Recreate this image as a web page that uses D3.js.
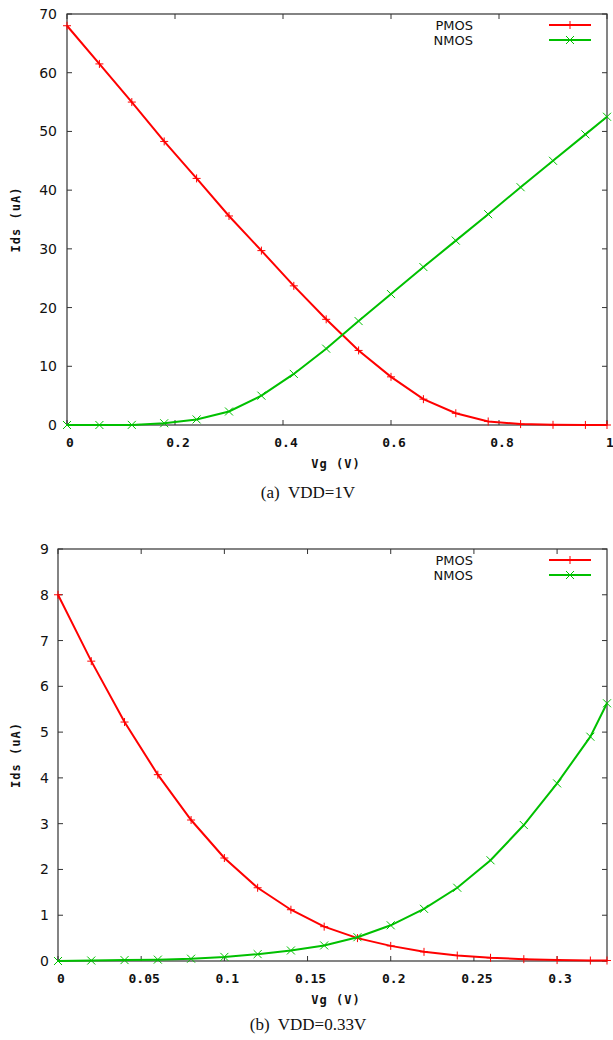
<!DOCTYPE html>
<html>
<head>
<meta charset="utf-8">
<script src="https://cdn.jsdelivr.net/npm/d3@7"></script>
<style>
  body { margin: 0; background: #fff; }
  svg text { fill: #111; }
  .tick-x { font-family: "DejaVu Sans Mono", monospace; font-size: 13px; font-weight: bold; }
  .tick-y { font-family: "DejaVu Sans", sans-serif; font-size: 14px; }
  .axis-label { font-family: "DejaVu Sans Mono", monospace; font-size: 12px; font-weight: bold; letter-spacing: 1px; }
  .legend { font-family: "DejaVu Sans", sans-serif; font-size: 13px; }
  .caption { font-family: "Liberation Serif", "Times New Roman", serif; font-size: 17px; }
</style>
</head>
<body>
<svg id="chart" width="613" height="1040"></svg>
<script>
// (a) VDD = 1V
const vgA = [0, 0.06, 0.12, 0.18, 0.24, 0.30, 0.36, 0.42, 0.48, 0.54, 0.60, 0.66, 0.72, 0.78, 0.84, 0.90, 0.96, 1.0];
const pmosA = [68, 61.5, 55, 48.3, 42, 35.6, 29.7, 23.7, 18, 12.7, 8.2, 4.4, 2.0, 0.6, 0.15, 0.03, 0.01, 0];
const nmosA = [0, 0, 0.02, 0.3, 0.95, 2.3, 5.0, 8.7, 13, 17.7, 22.3, 26.9, 31.4, 35.9, 40.5, 45, 49.5, 52.5];
const xTicksA = [0, 0.2, 0.4, 0.6, 0.8, 1];
const yTicksA = [0, 10, 20, 30, 40, 50, 60, 70];

// (b) VDD = 0.33V
const vgB = [0, 0.02, 0.04, 0.06, 0.08, 0.10, 0.12, 0.14, 0.16, 0.18, 0.20, 0.22, 0.24, 0.26, 0.28, 0.30, 0.32, 0.33];
const pmosB = [8.0, 6.55, 5.22, 4.07, 3.08, 2.25, 1.6, 1.12, 0.75, 0.5, 0.33, 0.2, 0.12, 0.07, 0.04, 0.02, 0.01, 0.01];
const nmosB = [0, 0.01, 0.02, 0.03, 0.05, 0.09, 0.15, 0.23, 0.34, 0.52, 0.78, 1.14, 1.6, 2.2, 2.97, 3.88, 4.9, 5.63];
const xTicksB = [0, 0.05, 0.1, 0.15, 0.2, 0.25, 0.3];
const yTicksB = [0, 1, 2, 3, 4, 5, 6, 7, 8, 9];

const seriesNames = ['PMOS', 'NMOS'];
const seriesColors = ['#ff0000', '#00c000'];

const svg = d3.select('#chart');

function drawPanel(opt) {
  const g = svg.append('g');
  const x = d3.scaleLinear().domain(opt.xDomain).range([opt.left, opt.right]);
  const y = d3.scaleLinear().domain(opt.yDomain).range([opt.bottom, opt.top]);
  const tl = 5;

  // frame
  g.append('rect')
    .attr('x', opt.left).attr('y', opt.top)
    .attr('width', opt.right - opt.left).attr('height', opt.bottom - opt.top)
    .attr('fill', 'none').attr('stroke', '#333').attr('stroke-width', 1.2);

  // ticks, inside and mirrored
  opt.xTicks.forEach(t => {
    g.append('line').attr('x1', x(t)).attr('x2', x(t)).attr('y1', opt.bottom).attr('y2', opt.bottom - tl).attr('stroke', '#333');
    g.append('line').attr('x1', x(t)).attr('x2', x(t)).attr('y1', opt.top).attr('y2', opt.top + tl).attr('stroke', '#333');
    g.append('text').attr('class', 'tick-x')
      .attr('x', x(t) + 3).attr('y', opt.bottom + 22)
      .attr('text-anchor', 'middle')
      .text(t);
  });
  opt.yTicks.forEach(t => {
    g.append('line').attr('x1', opt.left).attr('x2', opt.left + tl).attr('y1', y(t)).attr('y2', y(t)).attr('stroke', '#333');
    g.append('line').attr('x1', opt.right).attr('x2', opt.right - tl).attr('y1', y(t)).attr('y2', y(t)).attr('stroke', '#333');
    g.append('text').attr('class', 'tick-y')
      .attr('x', opt.left - opt.yLabelGap).attr('y', y(t) + 5)
      .attr('text-anchor', 'end')
      .text(t);
  });

  // axis titles
  g.append('text').attr('class', 'axis-label')
    .attr('x', 336).attr('y', opt.bottom + 43)
    .attr('text-anchor', 'middle')
    .text('Vg (V)');
  g.append('text').attr('class', 'axis-label')
    .attr('transform', `translate(20,${(opt.top + opt.bottom) / 2}) rotate(-90)`)
    .attr('text-anchor', 'middle')
    .text('Ids (uA)');

  // series
  const line = d3.line().x(d => x(d[0])).y(d => y(d[1]));
  [opt.pmos, opt.nmos].forEach((vals, i) => {
    const pts = opt.vg.map((v, j) => [v, vals[j]]);
    const c = seriesColors[i];
    g.append('path').datum(pts)
      .attr('d', line)
      .attr('fill', 'none').attr('stroke', c).attr('stroke-width', 2);
    const s = 4;
    pts.forEach(p => {
      const px = x(p[0]), py = y(p[1]);
      if (i === 0) {
        g.append('path').attr('d', `M${px - s},${py}H${px + s}M${px},${py - s}V${py + s}`)
          .attr('stroke', c).attr('stroke-width', 1);
      } else {
        g.append('path').attr('d', `M${px - s},${py - s}L${px + s},${py + s}M${px - s},${py + s}L${px + s},${py - s}`)
          .attr('stroke', c).attr('stroke-width', 1);
      }
    });
  });

  // legend
  seriesNames.forEach((name, i) => {
    const ly = opt.top + 11 + i * 15;
    g.append('text').attr('class', 'legend')
      .attr('x', 473).attr('y', ly + 5)
      .attr('text-anchor', 'end')
      .text(name);
    g.append('line').attr('x1', 549).attr('x2', 591).attr('y1', ly).attr('y2', ly)
      .attr('stroke', seriesColors[i]).attr('stroke-width', 2);
    const cx = 570, s = 4;
    g.append('path')
      .attr('d', i === 0
        ? `M${cx - s},${ly}H${cx + s}M${cx},${ly - s}V${ly + s}`
        : `M${cx - s},${ly - s}L${cx + s},${ly + s}M${cx - s},${ly + s}L${cx + s},${ly - s}`)
      .attr('stroke', seriesColors[i]).attr('stroke-width', 1);
  });

  // caption
  svg.append('text').attr('class', 'caption')
    .attr('x', 308).attr('y', opt.captionY)
    .attr('text-anchor', 'middle')
    .attr('xml:space', 'preserve')
    .text(opt.caption);
}

drawPanel({
  vg: vgA, pmos: pmosA, nmos: nmosA, xTicks: xTicksA, yTicks: yTicksA,
  xDomain: [0, 1], yDomain: [0, 70],
  left: 67, right: 607, top: 14, bottom: 425, yLabelGap: 10,
  caption: '(a)  VDD=1V', captionY: 498
});

drawPanel({
  vg: vgB, pmos: pmosB, nmos: nmosB, xTicks: xTicksB, yTicks: yTicksB,
  xDomain: [0, 0.33], yDomain: [0, 9],
  left: 58, right: 607, top: 549, bottom: 961, yLabelGap: 9,
  caption: '(b)  VDD=0.33V', captionY: 1030
});
</script>
</body>
</html>
